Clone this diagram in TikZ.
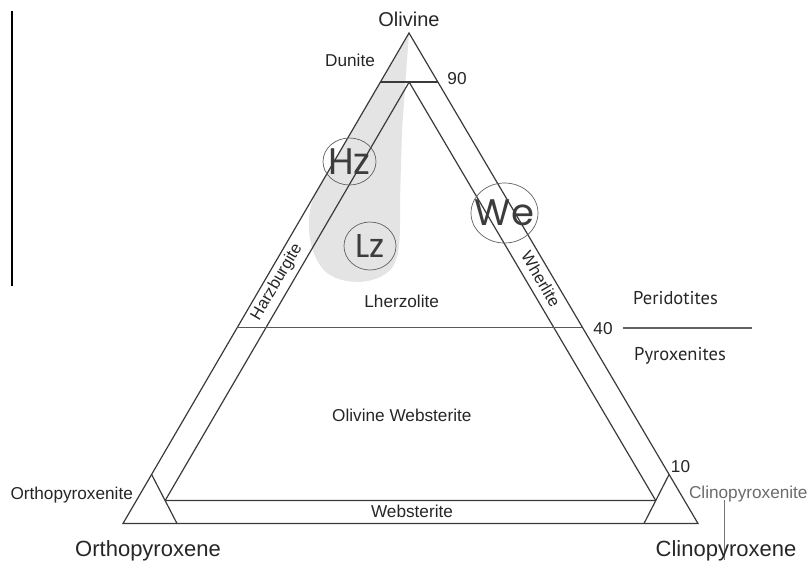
\documentclass[tikz,border=0pt]{standalone}
\usepackage{fontspec}
\setmainfont{Liberation Sans}
\newfontfamily\myr{PT Sans}
\newfontfamily\geo{Poppins}
\usetikzlibrary{calc,shapes.geometric}
\definecolor{ln}{HTML}{3A3A3A}
\definecolor{tx}{HTML}{262626}
\definecolor{fieldgray}{HTML}{E4E4E4}
\tikzset{
  edge/.style={draw=ln, line width=1.2pt},
  lbl/.style={text=tx, inner sep=0pt, anchor=base, font=\fontsize{17.2}{19}\selectfont},
  big/.style={text=tx, inner sep=0pt, anchor=base, font=\fontsize{22}{24}\selectfont},
  myrl/.style={text=tx, inner sep=0pt, anchor=base, font=\myr\fontsize{18.5}{20}\selectfont},
  ring/.style={draw=ln!80, line width=0.7pt, ellipse},
  geol/.style={text=tx!90, inner sep=0pt, font=\geo\fontsize{37}{40}\selectfont},
  bandlbl/.style={text=tx, inner sep=0pt, font=\fontsize{16.5}{18}\selectfont}
}
\begin{document}
\begin{tikzpicture}[x=1pt,y=-1pt]
\useasboundingbox (0,0) rectangle (809,563);
% vertices
\coordinate (A) at (409,33);
\coordinate (B) at (123,523.5);
\coordinate (C) at (698,523.5);
\coordinate (P90L) at ($(A)!0.1!(B)$);
\coordinate (P90R) at ($(A)!0.1!(C)$);
\coordinate (D) at ($(P90L)!0.5!(P90R)$);
\coordinate (P40L) at ($(A)!0.6!(B)$);
\coordinate (P40R) at ($(A)!0.6!(C)$);
\coordinate (P10L) at ($(A)!0.9!(B)$);
\coordinate (P10R) at ($(A)!0.9!(C)$);
\coordinate (BL2) at (177,523.5);
\coordinate (CR2) at (644,523.5);
\coordinate (Dl) at ($(D)+(B)-(A)$);
\coordinate (Dr) at ($(D)+(C)-(A)$);
\coordinate (IL) at (intersection of D--Dl and P10L--BL2);
\coordinate (IR) at (intersection of D--Dr and P10R--CR2);
\coordinate (S1) at (623,328);
\coordinate (S2) at (752,328);
\coordinate (V1) at (12,11);
\coordinate (V2) at (12,286);
\coordinate (W1) at (724,500);
\coordinate (W2) at (724,560);
% shaded field
\fill[fieldgray] (409,34) -- (316,192) .. controls (306,212) and (305,245) .. (322,268)
  .. controls (335,285) and (375,288) .. (392,268)
  .. controls (401,255) and (400,235) .. (400,200) -- (402,130) -- (407,60) -- cycle;
% triangle and fields
\draw[edge, line join=miter] (A) -- (B) -- (C) -- cycle;
\draw[edge] (P90L) -- (P90R);
\draw[edge, line join=miter] (IL) -- (D) -- (IR);
\draw[edge] (IL) -- (IR);
\draw[edge] (P10L) -- (BL2);
\draw[edge] (P10R) -- (CR2);
\draw[edge, draw=ln!85] (P40L) -- (P40R);
\draw[draw=ln!80, line width=1.1pt] (S1) -- (S2);
\draw[black, line width=1.2pt] (V1) -- (V2);
\draw[draw=ln!70, line width=0.7pt] (W1) -- (W2);
% circles
\node[ring, minimum width=53pt, minimum height=47pt] (hzc) at (349.5,161.5) {};
\node[ring, minimum width=52pt, minimum height=48pt] (lzc) at (370,246) {};
\node[ring, minimum width=67pt, minimum height=60pt] (wec) at (504.5,213) {};
\node[geol] (hz) at (hzc.center) {Hz};
\node[geol, font=\geo\fontsize{33}{36}\selectfont] (lz) at (lzc.center) {Lz};
\node[geol, font=\geo\fontsize{37}{40}\selectfont] (we) at (wec.center) {We};
% labels
\node[big, font=\fontsize{20}{22}\selectfont] (ol) at (409,26) {Olivine};
\node[lbl] (du) at (350,66.7) {Dunite};
\node[lbl] (n90) at (457,84.3) {90};
\node[lbl] (n40) at (603,334) {40};
\node[lbl] (n10) at (680.5,472.7) {10};
\node[lbl] (lh) at (401.7,307.3) {Lherzolite};
\node[lbl] (ows) at (401.8,421.7) {Olivine Websterite};
\node[lbl] (ws) at (412,517) {Websterite};
\node[lbl] (opx) at (71.7,499.3) {Orthopyroxenite};
\node[lbl, text=ln!75] (cpx) at (748.3,498.3) {Clinopyroxenite};
\node[big] (ope) at (148,556) {Orthopyroxene};
\node[big] (cpe) at (726,556) {Clinopyroxene};
\node[myrl] (per) at (675.5,304.3) {Peridotites};
\node[myrl] (pyr) at (680,360.7) {Pyroxenites};
\node[bandlbl, rotate=59.8] (hzb) at (277,282) {Harzburgite};
\node[bandlbl, rotate=-59.5] (whr) at (541,279) {Wherlite};
\end{tikzpicture}
\end{document}
